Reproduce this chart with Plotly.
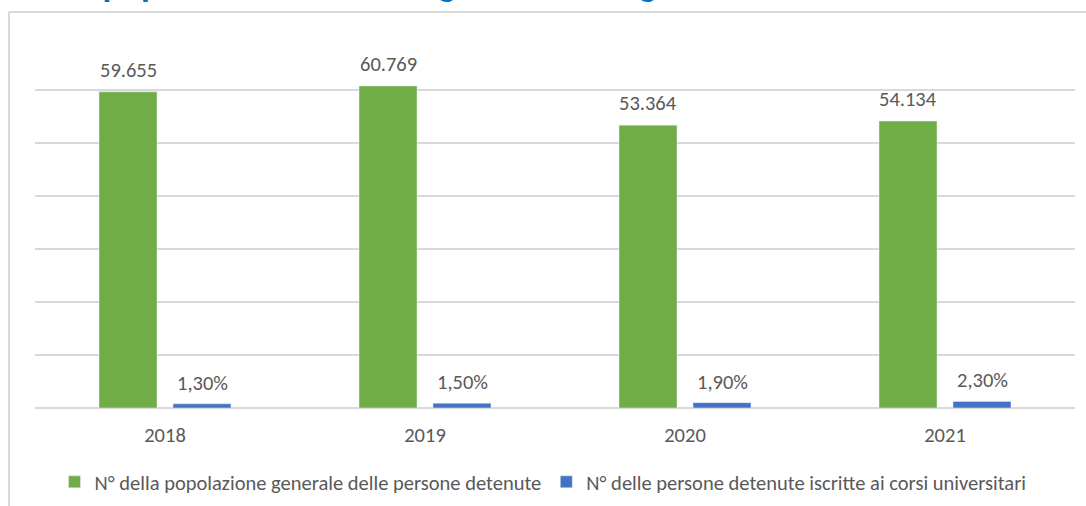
import plotly.graph_objects as go

years = ["2018", "2019", "2020", "2021"]
detenuti = [59655, 60769, 53364, 54134]
iscritti = [780, 910, 1010, 1250]
label_detenuti = ["59.655", "60.769", "53.364", "54.134"]
label_iscritti = ["1,30%", "1,50%", "1,90%", "2,30%"]
name_detenuti = "N° della popolazione generale delle persone detenute"
name_iscritti = "N° delle persone detenute iscritte ai corsi universitari"
title_text = "Confronto tra la popolazione detenuta generale e degli studenti universitari"

FONT = "Carlito, Calibri, 'Open Sans', sans-serif"
GRAY = "#595959"
GRID = "#D9D9D9"
FS = 20.5

W, H = 1086, 506
L, R, T, B = 35, 11, 37, 98
pw, ph = W - L - R, H - T - B

fig = go.Figure()
fig.add_trace(go.Bar(x=years, y=detenuti, name=name_detenuti, marker_color="#70AD47"))
fig.add_trace(go.Bar(x=years, y=iscritti, name=name_iscritti, marker_color="#4472C4"))

anns = []
for i, yr in enumerate(years):
    anns.append(dict(x=i, y=detenuti[i], xref="x", yref="y", text=label_detenuti[i],
                     showarrow=False, xshift=-37, yanchor="bottom", yshift=7,
                     font=dict(size=FS, color=GRAY, family=FONT)))
    anns.append(dict(x=i, y=iscritti[i], xref="x", yref="y", text=label_iscritti[i],
                     showarrow=False, xshift=37, yanchor="bottom", yshift=6,
                     font=dict(size=FS, color=GRAY, family=FONT)))

anns.append(dict(x=(985 - L) / pw, y=1 + (T - 8) / ph, xref="paper", yref="paper",
                 xanchor="right", yanchor="bottom", text="<b>" + title_text + "</b>",
                 showarrow=False, font=dict(size=36, color="#0070C0", family=FONT)))

shapes = [
    dict(type="line", xref="paper", yref="paper", x0=(9 - L) / pw, x1=(W + 5 - L) / pw,
         y0=1 + (T - 12) / ph, y1=1 + (T - 12) / ph, line=dict(color=GRID, width=2)),
    dict(type="line", xref="paper", yref="paper", x0=(9 - L) / pw, x1=(9 - L) / pw,
         y0=1 + (T - 12) / ph, y1=-(B + 5) / ph, line=dict(color=GRID, width=2)),
]

fig.update_layout(
    width=W, height=H,
    margin=dict(l=L, r=R, t=T, b=B, autoexpand=False),
    paper_bgcolor="white", plot_bgcolor="white",
    barmode="group", bargap=0.431, bargroupgap=0.216,
    font=dict(family=FONT, color=GRAY, size=FS),
    annotations=anns, shapes=shapes,
    showlegend=True,
    legend=dict(orientation="h", x=0.5, xanchor="center", xref="container",
                y=1 - 482 / H, yanchor="middle", yref="container",
                font=dict(size=FS, color=GRAY, family=FONT),
                itemwidth=30, traceorder="normal"),
    xaxis=dict(type="category", range=[-0.5, 3.5], showgrid=False, showline=False, ticks="",
               ticklabelstandoff=12, tickfont=dict(size=FS, color=GRAY)),
    yaxis=dict(range=[0, 70000], dtick=10000, showgrid=True, gridcolor=GRID, gridwidth=1.5,
               showticklabels=False, zeroline=True, zerolinecolor=GRID, zerolinewidth=1.5,
               fixedrange=True),
)

fig.write_html("out.html", config={"displayModeBar": False},
               post_script="document.body.style.margin='0';")
